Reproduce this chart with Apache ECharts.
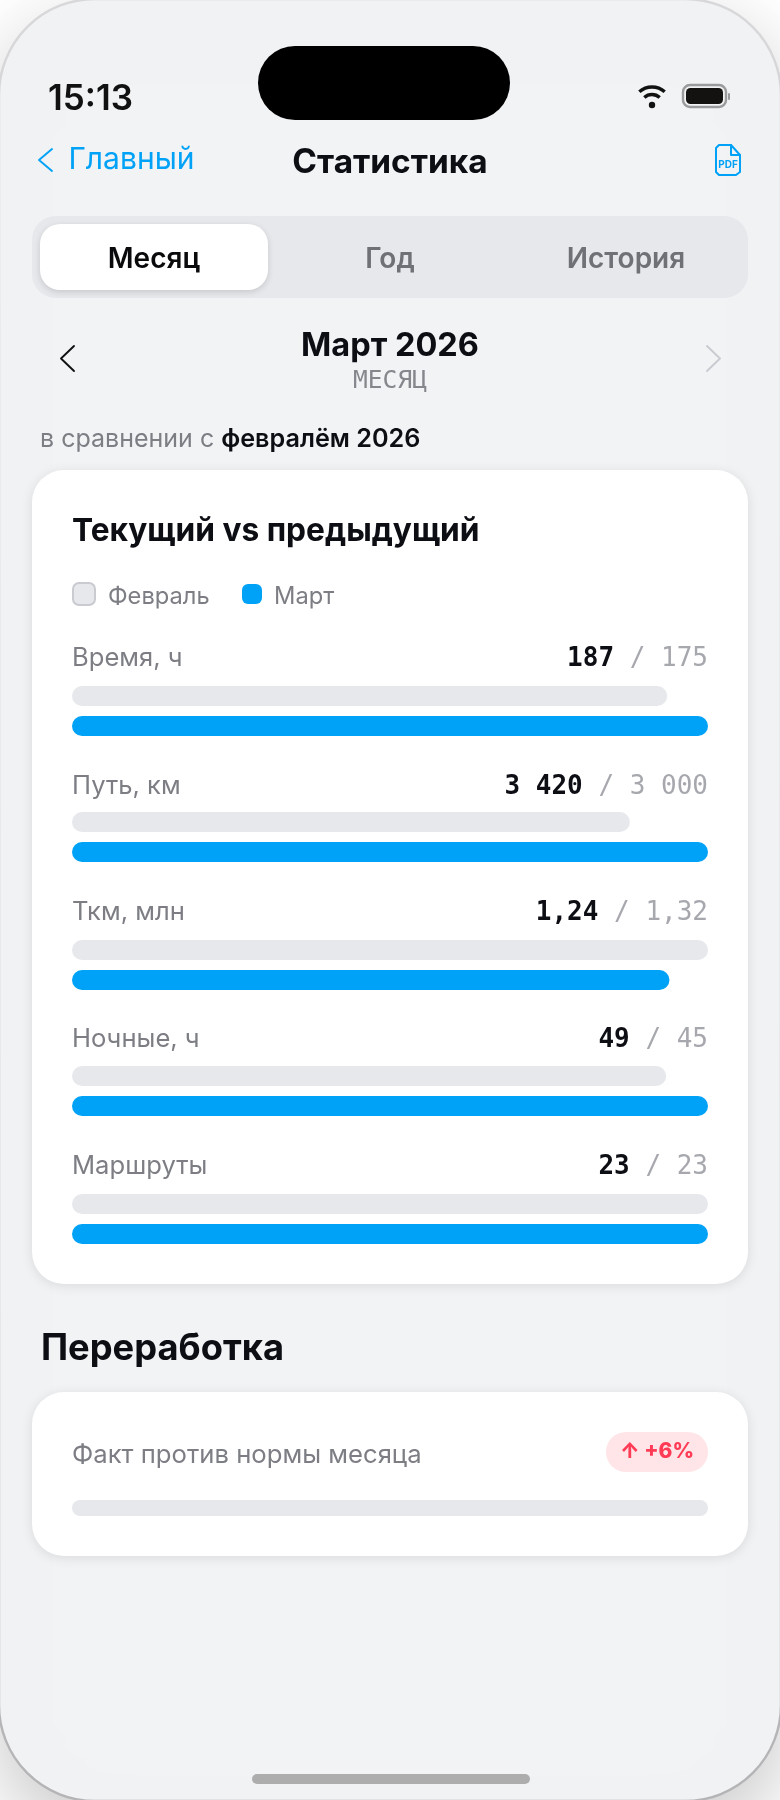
<!DOCTYPE html>
<html lang="ru">
<head>
<meta charset="utf-8">
<title>Статистика</title>
<script src="https://cdn.jsdelivr.net/npm/echarts@6/dist/echarts.min.js"></script>
<style>
    html, body { margin: 0; padding: 0; background: #fff; }
    #chart { width: 780px; height: 1800px; }
</style>
</head>
<body>
<div id="chart"></div>
<script>
// Data
const metrics = ["Время, ч", "Путь, км", "Ткм, млн", "Ночные, ч", "Маршруты"];
const periods = ["Февраль", "Март"];
const febValues = [175, 3000, 1.32, 45.4, 23];
const marValues = [187, 3420, 1.24, 48.6, 23];
const marLabels = ["187", "3 420", "1,24", "49", "23"];
const febLabels = ["175", "3 000", "1,32", "45", "23"];
const overtimeTrack = [100];

const SANS = "Inter, sans-serif";
const MONO = "'DejaVu Sans Mono', monospace";
const BLUE = "#00a2f7";
const TRACK = "#e7e8ec";
const INK = "#0c0e14";
const GREY = "#7c7e84";

// Layout of the rows (pixels)
const rowTops = [681, 807, 935, 1061, 1189];
const rowTextY = [658, 786, 912, 1039, 1166];

function text(x, y, str, font, fill, align) {
    return {
        type: "text",
        silent: true,
        x: x,
        y: y,
        style: { text: str, font: font, fill: fill, align: align || "left", verticalAlign: "middle" },
    };
}

function box(x, y, w, h, r, fill, extra) {
    return {
        type: "rect",
        silent: true,
        shape: { x: x, y: y, width: w, height: h, r: r },
        style: Object.assign({ fill: fill }, extra || {}),
    };
}

function stroke(points, color, width) {
    return {
        type: "polyline",
        silent: true,
        shape: { points: points },
        style: { fill: "none", stroke: color, lineWidth: width, lineCap: "round", lineJoin: "round" },
    };
}

const cardShadow = { shadowBlur: 12, shadowColor: "rgba(0,0,0,0.10)", shadowOffsetY: 2 };

// Phone frame and page chrome, drawn under the bars
const backdrop = [
    box(-1, -1, 782, 1802, 96, "#f2f3f5", {
        stroke: new echarts.graphic.LinearGradient(0, 0, 0, 1, [
            { offset: 0, color: "#d8d8da" },
            { offset: 1, color: "#b4b4b6" },
        ]),
        lineWidth: 2.4,
        shadowBlur: 80,
        shadowColor: "rgba(0,0,0,0.22)",
        shadowOffsetY: 30,
    }),
    box(258, 46, 252, 74, 37, "#000"),

    // segmented control
    box(32, 216, 716, 82, 24, TRACK),
    box(40, 224, 228, 66, 20, "#fff", { shadowBlur: 6, shadowColor: "rgba(0,0,0,0.14)", shadowOffsetY: 2 }),

    // cards
    box(32, 470, 716, 814, 32, "#fff", cardShadow),
    box(32, 1392, 716, 164, 32, "#fff", cardShadow),

    box(252, 1774, 278, 10, 5, "#adadad"),
];

// Texts and icons, drawn over
const overlay = [
    text(48, 99, "15:13", "600 35px " + SANS, "#111"),

    // wifi
    { type: "arc", silent: true, shape: { cx: 652, cy: 106, r: 19, startAngle: -2.3, endAngle: -0.84 }, style: { fill: "none", stroke: "#111", lineWidth: 3.4 } },
    { type: "arc", silent: true, shape: { cx: 652, cy: 106, r: 11.5, startAngle: -2.3, endAngle: -0.84 }, style: { fill: "none", stroke: "#111", lineWidth: 3.4 } },
    { type: "circle", silent: true, shape: { cx: 652, cy: 105, r: 3.2 }, style: { fill: "#111" } },

    // battery
    box(683, 85, 43, 22, 7, "none", { stroke: "#9b9b9b", lineWidth: 2.4 }),
    box(686, 88, 37, 16, 4.5, "#141210"),
    box(728, 93, 2, 7, 1, "#9b9b9b"),

    // nav bar
    stroke([[52, 149], [39, 160], [52, 171]], BLUE, 1.9),
    text(68.5, 160, "Главный", "400 30px " + SANS, BLUE),
    text(390, 163, "Статистика", "700 33.4px " + SANS, INK, "center"),
    {
        type: "polygon",
        silent: true,
        shape: { points: [[719, 145], [731, 145], [740, 155], [740, 172], [736, 175], [719, 175], [716, 172], [716, 148]] },
        style: { fill: "none", stroke: BLUE, lineWidth: 2, lineJoin: "round" },
    },
    stroke([[731, 145], [731, 155], [740, 155]], BLUE, 2),
    text(728, 165, "PDF", "700 10px " + SANS, BLUE, "center"),

    // segmented labels
    text(154, 260, "Месяц", "600 28px " + SANS, "#0a0a0c", "center"),
    text(390, 260, "Год", "600 28px " + SANS, "#6f7177", "center"),
    text(626, 260, "История", "600 28px " + SANS, "#6f7177", "center"),

    // month switcher
    stroke([[74, 346], [61, 358.5], [74, 371]], "#111", 1.9),
    text(390, 346.5, "Март 2026", "700 32.5px " + SANS, INK, "center"),
    text(390, 381.5, "МЕСЯЦ", "400 24.5px " + MONO, "#85878d", "center"),
    stroke([[707, 346], [720, 358.5], [707, 371]], "#c9cbd0", 1.9),

    {
        type: "text",
        silent: true,
        x: 40,
        y: 439,
        style: {
            text: "{a|в сравнении с }{b|февралём 2026}",
            verticalAlign: "middle",
            rich: {
                a: { font: "400 25px " + SANS, fill: GREY },
                b: { font: "600 25.2px " + SANS, fill: INK },
            },
        },
    },

    text(72, 531, "Текущий vs предыдущий", "700 31.7px " + SANS, INK),

    // legend
    box(73, 583, 22, 22, 6, TRACK, { stroke: "#c9cbd0", lineWidth: 2 }),
    text(108, 597, periods[0], "400 23.7px " + SANS, GREY),
    box(242, 584, 20, 20, 6, BLUE),
    text(274, 597, periods[1], "400 23.7px " + SANS, GREY),

    text(41, 1349, "Переработка", "700 36.3px " + SANS, INK),
    text(72, 1455, "Факт против нормы месяца", "400 25.66px " + SANS, GREY),
    box(606, 1432, 102, 40, 20, "#ffe5e8"),
    text(657, 1452, "↑ +6%", "800 21px " + SANS, "#ff3b55", "center"),
];

metrics.forEach((name, i) => {
    overlay.push(text(72, rowTextY[i], name, "400 25.6px " + SANS, GREY));
    overlay.push({
        type: "text",
        silent: true,
        x: 708,
        y: rowTextY[i] + 1.3,
        style: {
            text: "{a|" + marLabels[i] + "}{b| / " + febLabels[i] + "}",
            align: "right",
            verticalAlign: "middle",
            rich: {
                a: { font: "700 26px " + MONO, fill: INK },
                b: { font: "400 26px " + MONO, fill: "#a6a8ae" },
            },
        },
    });
});

// One small grid per metric: each pair of bars has its own scale
const grids = [];
const xAxes = [];
const yAxes = [];
const series = [];

metrics.forEach((name, i) => {
    grids.push({ left: 72, top: rowTops[i], width: 636, height: 60 });
    xAxes.push({ gridIndex: i, type: "value", min: 0, max: Math.max(febValues[i], marValues[i]), show: false });
    yAxes.push({ gridIndex: i, type: "category", data: periods, inverse: true, show: false });
    series.push({
        name: name,
        type: "bar",
        xAxisIndex: i,
        yAxisIndex: i,
        barWidth: 20,
        silent: true,
        animation: false,
        z: 3,
        itemStyle: { borderRadius: 10 },
        data: [
            { value: febValues[i], itemStyle: { color: TRACK } },
            { value: marValues[i], itemStyle: { color: BLUE } },
        ],
    });
});

// Overtime track
grids.push({ left: 72, top: 1500, width: 636, height: 16 });
xAxes.push({ gridIndex: 5, type: "value", min: 0, max: 100, show: false });
yAxes.push({ gridIndex: 5, type: "category", data: ["Факт против нормы месяца"], show: false });
series.push({
    name: "Факт против нормы месяца",
    type: "bar",
    xAxisIndex: 5,
    yAxisIndex: 5,
    barWidth: 16,
    silent: true,
    animation: false,
    z: 3,
    itemStyle: { color: TRACK, borderRadius: 8 },
    data: overtimeTrack,
});

const chart = echarts.init(document.getElementById("chart"), null, { renderer: "canvas" });
chart.setOption({
    animation: false,
    backgroundColor: "#fff",
    tooltip: { show: false },
    grid: grids,
    xAxis: xAxes,
    yAxis: yAxes,
    series: series,
    graphic: {
        elements: [
            { type: "group", silent: true, z: 0, zlevel: 0, children: backdrop },
            { type: "group", silent: true, z: 5, children: overlay },
        ],
    },
});
</script>
</body>
</html>
